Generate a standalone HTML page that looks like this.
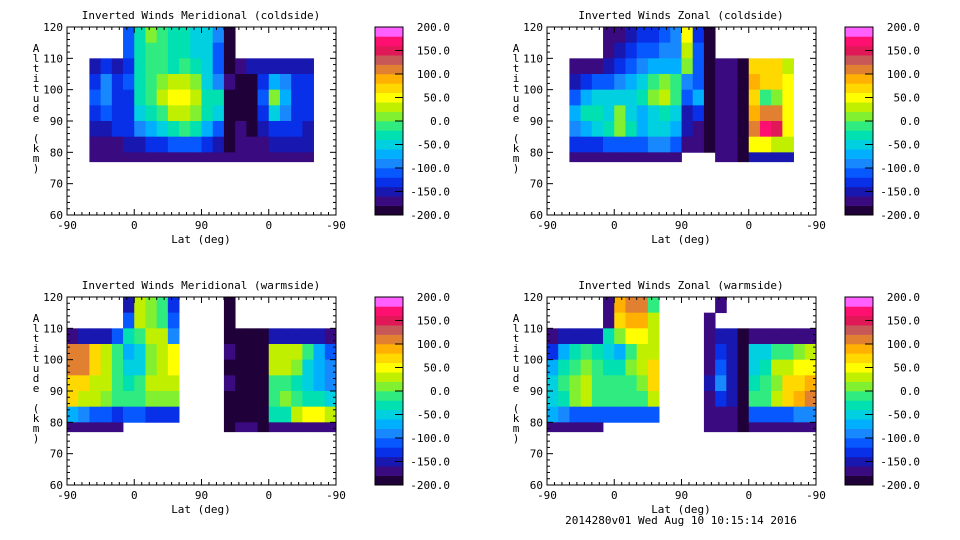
<!DOCTYPE html>
<html><head><meta charset="utf-8"><style>
body{margin:0;background:#fff;width:960px;height:540px;overflow:hidden}
svg{display:block}
text{font-family:"DejaVu Sans Mono","Liberation Mono",monospace;font-size:11px;fill:#000}
</style></head><body>
<svg id="chart" width="960" height="540" xmlns="http://www.w3.org/2000/svg"></svg>
<script>
const N=null;
const latTicks=["-90","0","90","0","-90"];
const altTicks=[120,110,100,90,80,70,60];
const cbarTicks=["200.0","150.0","100.0","50.0","0.0","-50.0","-100.0","-150.0","-200.0"];
const rowTops=[120,115,110,105,100,95,90,85,80];
const bandColors=["#200038","#3a0a80","#1818b0","#0830e8","#0858ff","#1888ff","#00b0ff","#00d0e0","#00e0b0","#30ec80","#80f030","#c0f000","#ffff00","#ffd800","#ffb000","#e08030","#c85858","#e01858","#ff1070","#ff60ff"];
const titles=["Inverted Winds Meridional (coldside)","Inverted Winds Zonal (coldside)","Inverted Winds Meridional (warmside)","Inverted Winds Zonal (warmside)"];
const merCold=[
[N,N,N,N,N,-110,-30,0,-20,-40,-30,-60,-60,-90,-190,N,N,N,N,N,N,N,N,N],
[N,N,N,N,N,-120,-30,-20,-20,-40,-30,-50,-60,-110,-190,N,N,N,N,N,N,N,N,N],
[N,N,-150,-130,-150,-130,-40,-20,-20,-30,-20,-40,-60,-110,-190,-170,-160,-160,-150,-150,-150,-160,N,N],
[N,N,-130,-100,-130,-120,-40,-20,10,30,30,0,-50,-90,-180,-200,-190,-130,-70,-100,-130,-140,N,N],
[N,N,-120,-90,-130,-130,-40,-10,20,40,50,20,-30,-40,-190,-200,-200,-120,0,-70,-130,-140,N,N],
[N,N,-140,-110,-140,-140,-60,-40,-10,20,30,10,-40,-60,-200,-200,-200,-130,-60,-100,-130,-140,N,N],
[N,N,-160,-150,-140,-140,-100,-80,-60,-40,-20,-30,-80,-110,-190,-180,-190,-160,-130,-130,-140,-150,N,N],
[N,N,-170,-170,-170,-160,-150,-140,-130,-120,-110,-110,-140,-150,-190,-170,-180,-170,-160,-160,-160,-160,N,N],
[N,N,-180,-180,-180,-180,-180,-180,-180,-180,-180,-180,-180,-180,-180,-180,-180,-180,-180,-180,-180,-180,N,N]];
const zonCold=[
[N,N,N,N,N,-170,-170,-150,-140,-140,-110,-100,40,-130,-200,N,N,N,N,N,N,N,N,N],
[N,N,N,N,N,-170,-160,-140,-120,-110,-100,-90,20,-120,-200,N,N,N,N,N,N,N,N,N],
[N,N,-170,-170,-170,-160,-140,-120,-100,-80,-70,-70,0,-110,-200,-180,-170,-200,60,60,60,30,N,N],
[N,N,-150,-130,-120,-110,-90,-70,-50,-10,0,-20,-90,-110,-200,-170,-170,-200,80,60,60,40,N,N],
[N,N,-110,-80,-60,-60,-50,-50,-40,10,20,-10,-110,-80,-200,-180,-170,-200,60,-20,0,50,N,N],
[N,N,-80,-40,-30,-50,0,-60,-70,-50,-40,-50,-150,-130,-200,-180,-170,-200,80,100,100,40,N,N],
[N,N,-100,-80,-60,-40,10,-30,-70,-60,-60,-70,-160,-170,-200,-180,-170,-200,100,160,150,40,N,N],
[N,N,-140,-140,-130,-120,-110,-110,-110,-100,-100,-110,-170,-170,-200,-180,-170,-200,40,40,30,20,N,N],
[N,N,-170,-170,-170,-170,-170,-170,-170,-170,-170,-170,N,N,N,-180,-170,-200,-160,-160,-160,-160,N,N]];
const merWarm=[
[N,N,N,N,N,-150,30,10,-20,-140,N,N,N,N,-190,N,N,N,N,N,N,N,N,N],
[N,N,N,N,N,-120,20,0,-10,-120,N,N,N,N,-190,N,N,N,N,N,N,N,N,N],
[-170,-160,-150,-160,-120,-40,-20,30,20,-100,N,N,N,N,-200,-190,-190,-200,-160,-160,-160,-160,-160,-170],
[110,100,60,20,-20,-70,-60,10,30,40,N,N,N,N,-180,-200,-190,-200,30,30,20,-20,-80,-110],
[110,100,60,30,-20,-60,-60,0,30,40,N,N,N,N,-190,-200,-200,-200,30,30,0,-50,-70,-100],
[70,60,30,20,-10,-40,-20,20,30,30,N,N,N,N,-180,-200,-200,-200,-10,-20,-30,-60,-70,-90],
[60,30,20,0,-10,-20,-10,0,10,10,N,N,N,N,-190,-200,-190,-200,-20,0,-20,-30,-40,-60],
[-80,-90,-110,-120,-130,-120,-120,-130,-130,-130,N,N,N,N,-190,-190,-190,-200,-40,-30,30,40,40,30],
[-170,-170,-170,-170,-170,N,N,N,N,N,N,N,N,N,-190,-180,-180,-190,-170,-170,-170,-170,-170,-170]];
const zonWarm=[
[N,N,N,N,N,-180,90,100,100,-20,N,N,N,N,N,-170,N,N,N,N,N,N,N,N],
[N,N,N,N,N,-180,60,90,80,20,N,N,N,N,-170,N,N,N,N,N,N,N,N,N],
[-170,-160,-150,-150,-150,-40,0,40,40,20,N,N,N,N,-180,-160,-160,-200,-170,-170,-170,-170,-170,-170],
[-130,-80,-40,-20,-40,-50,-70,-10,20,30,N,N,N,N,-170,-140,-150,-200,-60,-60,-20,-20,10,20],
[-70,-40,-20,10,-20,-30,-30,0,20,60,N,N,N,N,-170,-120,-150,-200,-60,-40,20,20,40,50],
[-60,-20,0,20,-10,-10,-20,-10,10,60,N,N,N,N,-160,-100,-150,-200,-30,-20,10,60,70,80],
[-50,-30,10,20,-10,-10,-20,-20,-10,30,N,N,N,N,-170,-130,-150,-200,-20,-10,30,60,90,100],
[-80,-100,-110,-120,-120,-120,-120,-120,-120,-120,N,N,N,N,-180,-170,-170,-200,-120,-110,-110,-110,-100,-100],
[-170,-170,-170,-170,-170,N,N,N,N,N,N,N,N,N,-180,-180,-180,-190,-170,-170,-170,-170,-170,-170]];
const panelValues=[merCold,zonCold,merWarm,zonWarm];

const NS="http://www.w3.org/2000/svg";
const svg=document.getElementById("chart");
function mk(tag,attrs,parent){const e=document.createElementNS(NS,tag);for(const k in attrs)e.setAttribute(k,attrs[k]);(parent||svg).appendChild(e);return e;}
function xScale(p){return 67+p*269/360;}
function yScale(a){return 215-(a-60)*188/60;}
function colorFor(v){let i=Math.floor((v+200)/20);if(i<0)i=0;if(i>19)i=19;return bandColors[i];}
const offsets=[[0,0],[480,0],[0,270],[480,270]];
const cbarX=[375,845,375,845];
offsets.forEach((o,pi)=>{
  const g=mk("g",{transform:`translate(${o[0]},${o[1]})`});
  
  
  const t=mk("text",{x:201,y:19,"text-anchor":"middle"},g);t.textContent=titles[pi];
  
  
  const vals=panelValues[pi];
  const cells=mk("g",{},g);
  
  
  vals.forEach((row,r)=>{
    const top=rowTops[r], bot=(r===rowTops.length-1)?77:top-5;
    row.forEach((v,c)=>{
      if(v===null)return;
      const x0=xScale(c*15),x1=xScale(c*15+15);
      const rc=mk("rect",{x:x0,y:yScale(top),width:x1-x0+0.4,height:yScale(bot)-yScale(top)+0.4,fill:colorFor(v)},cells);
      
      
    });
  });
  const fr=mk("rect",{x:67,y:27,width:269,height:188,fill:"none",stroke:"#000","stroke-width":1},g);
  
  
  for(let a=60;a<=120;a+=2){const y=yScale(a),L=(a%10===0)?6:3;
    mk("line",{x1:67,y1:y,x2:67+L,y2:y,stroke:"#000"},g);mk("line",{x1:336,y1:y,x2:336-L,y2:y,stroke:"#000"},g);}
  for(let p=0;p<=360;p+=10){const x=xScale(p),L=(p%90===0)?6:3;
    mk("line",{x1:x,y1:215,x2:x,y2:215-L,stroke:"#000"},g);mk("line",{x1:x,y1:27,x2:x,y2:27+L,stroke:"#000"},g);}
  altTicks.forEach(a=>{const tt=mk("text",{x:63,y:yScale(a)+4,"text-anchor":"end"},g);tt.textContent=a;
    
    });
  latTicks.forEach((l,i)=>{const tt=mk("text",{x:xScale(i*90),y:229,"text-anchor":"middle"},g);tt.textContent=l;
    
    });
  const xl=mk("text",{x:201,y:243,"text-anchor":"middle"},g);xl.textContent="Lat (deg)";
  
  
  const yl=mk("text",{x:36,y:52,"text-anchor":"middle"},g);
  
  
  "Altitude (km)".split("").forEach((ch,i)=>{const ts=mk("tspan",{x:36,y:52+i*10},yl);ts.textContent=ch;});
  const cx=cbarX[pi]-o[0];
  const cb=mk("g",{},g);
  
  
  const bh=188/20;
  bandColors.forEach((col,i)=>{mk("rect",{x:cx,y:215-(i+1)*bh,width:28,height:bh+0.3,fill:col},cb);});
  mk("rect",{x:cx,y:27,width:28,height:188,fill:"none",stroke:"#000"},cb);
  cbarTicks.forEach((l,i)=>{const y=27+i*188/8;
    mk("line",{x1:cx+20,y1:y,x2:cx+28,y2:y,stroke:"#000"},cb);
    const tt=mk("text",{x:cx+75,y:y+4,"text-anchor":"end"},cb);tt.textContent=l;
    
    });
});
const ft=mk("text",{x:681,y:524,"text-anchor":"middle"});ft.textContent="2014280v01 Wed Aug 10 10:15:14 2016";


</script>
</body></html>
